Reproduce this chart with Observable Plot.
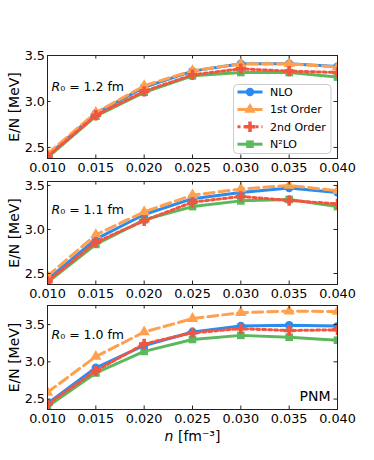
<!DOCTYPE html>
<html><head><meta charset="utf-8">
<script src="https://cdn.jsdelivr.net/npm/d3@7"></script>
<script src="https://cdn.jsdelivr.net/npm/@observablehq/plot@0.6"></script>
<style>body{margin:0;background:#fff;} svg{display:block;} #chart{width:374px;height:460px;}</style>
</head><body><div id="chart"></div>
<script>
// x values: density n [fm^-3]
const densities = [0.010, 0.015, 0.020, 0.025, 0.030, 0.035, 0.040];
const xTicks = [0.010, 0.015, 0.020, 0.025, 0.030, 0.035, 0.040];
const yTicks = [2.5, 3.0, 3.5];
const seriesNames = ["NLO", "1st Order", "2nd Order", "N²LO"];

// R0 = 1.2 fm
const nlo_12    = [2.41, 2.87, 3.155, 3.33, 3.41, 3.41, 3.38];
const first_12  = [2.43, 2.88, 3.17, 3.335, 3.41, 3.41, 3.375];
const second_12 = [2.40, 2.85, 3.11, 3.29, 3.355, 3.33, 3.315];
const n2lo_12   = [2.39, 2.84, 3.10, 3.28, 3.315, 3.315, 3.265];
// R0 = 1.1 fm
const nlo_11    = [2.43, 2.89, 3.17, 3.35, 3.42, 3.47, 3.42];
const first_11  = [2.47, 2.94, 3.20, 3.39, 3.46, 3.50, 3.44];
const second_11 = [2.41, 2.855, 3.10, 3.31, 3.375, 3.33, 3.29];
const n2lo_11   = [2.40, 2.83, 3.11, 3.26, 3.325, 3.34, 3.26];
// R0 = 1.0 fm
const nlo_10    = [2.44, 2.92, 3.22, 3.40, 3.48, 3.49, 3.48];
const first_10  = [2.59, 3.07, 3.40, 3.58, 3.66, 3.68, 3.675];
const second_10 = [2.43, 2.88, 3.24, 3.39, 3.445, 3.42, 3.43];
const n2lo_10   = [2.40, 2.85, 3.14, 3.30, 3.355, 3.33, 3.29];

const panelLabels = ["R₀ = 1.2 fm", "R₀ = 1.1 fm", "R₀ = 1.0 fm"];

const styles = {
  "NLO":       {color: "#2b8cf0", dash: null,  symbol: "circle",   r: 4.2},
  "1st Order": {color: "#ffa04e", dash: "10,5", symbol: "triangle", r: 4.2},
  "2nd Order": {color: "#f2553f", dash: "3,3",  symbol: "cross",    r: 4.4},
  "N²LO":      {color: "#5cb85c", dash: null,  symbol: "square",   r: 4.3}
};
const drawOrder = ["N²LO", "NLO", "1st Order", "2nd Order"];

const W = 374, mL = 47, mR = 37;

function makePanel(cfg) {
  const rows = [];
  seriesNames.forEach((name, k) => cfg.values[k].forEach((E, i) => rows.push({n: densities[i], E, series: name})));
  const H = cfg.height - cfg.marginTop - cfg.marginBottom;
  const PW = W - mL - mR;
  const marks = [];
  for (const name of drawOrder) {
    const s = styles[name];
    const d = rows.filter(r => r.series === name);
    marks.push(Plot.line(d, {x: "n", y: "E", stroke: s.color, strokeWidth: 3, strokeDasharray: s.dash, clip: true}));
    marks.push(Plot.dot(d, {x: "n", y: "E", symbol: s.symbol, fill: s.color, stroke: "none", r: s.r, clip: true}));
  }
  marks.push(Plot.frame({stroke: "#222", strokeWidth: 1}));
  const tk = {stroke: "#222", strokeWidth: 1};
  marks.push(Plot.tickX(xTicks, {x: d => d, insetTop: H - 3.5, ...tk}));
  marks.push(Plot.tickX(xTicks, {x: d => d, insetBottom: H - 3.5, ...tk}));
  marks.push(Plot.tickY(yTicks, {y: d => d, insetRight: PW - 3.5, ...tk}));
  marks.push(Plot.tickY(yTicks, {y: d => d, insetLeft: PW - 3.5, ...tk}));
  marks.push(Plot.axisX({ticks: xTicks, tickFormat: d3.format(".3f"), tickSize: 0, tickPadding: 4,
    label: cfg.xLabel ? "n [fm⁻³]" : null, labelAnchor: "center", labelOffset: 31, labelArrow: "none"}));
  marks.push(Plot.axisY({ticks: yTicks, tickFormat: d3.format(".1f"), tickSize: 0, tickPadding: 2.5,
    label: "E/N [MeV]", labelAnchor: "center", labelOffset: 38, labelArrow: "none"}));
  marks.push(Plot.text([cfg.label], {frameAnchor: "top-left", dx: 4, dy: cfg.labelDy, textAnchor: "start", fontSize: 12.5}));
  if (cfg.pnm) marks.push(Plot.text(["PNM"], {frameAnchor: "bottom-right", dx: -7, dy: -9, textAnchor: "end", fontSize: 14}));
  const svg = Plot.plot({
    width: W, height: cfg.height,
    marginLeft: mL, marginRight: mR, marginTop: cfg.marginTop, marginBottom: cfg.marginBottom,
    x: {domain: [0.010, 0.040]},
    y: {domain: cfg.yDomain},
    style: {fontFamily: "DejaVu Sans", fontSize: "12.8px", color: "#000", background: "transparent", overflow: "visible"},
    marks
  });
  d3.select(svg).selectAll('g[aria-label="y-axis label"], g[aria-label="x-axis label"]').attr("font-size", 14);
  // typographic touches: italic R and italic n
  d3.select(svg).selectAll("text").each(function() {
    const t = this.textContent;
    if (t.startsWith("R₀")) {
      this.textContent = "";
      d3.select(this).append("tspan").attr("font-style", "italic").text("R");
      d3.select(this).append("tspan").text(t.slice(1));
    } else if (t === "n [fm⁻³]") {
      this.textContent = "";
      d3.select(this).append("tspan").attr("font-style", "italic").text("n");
      d3.select(this).append("tspan").text(t.slice(1));
    }
  });
  return svg;
}

function addLegend(svg) {
  const g = d3.select(svg).append("g").attr("font-family", "DejaVu Sans").attr("font-size", 11)
    .attr("text-anchor", "start");
  const x0 = 233.5, y0 = 84.5, w = 97.5, h = 69;
  g.append("rect").attr("x", x0).attr("y", y0).attr("width", w).attr("height", h).attr("rx", 4)
    .attr("fill", "white").attr("fill-opacity", 0.85).attr("stroke", "#cccccc");
  seriesNames.forEach((name, i) => {
    const s = styles[name];
    const yc = y0 + 7.5 + i * 17.4;
    g.append("line").attr("x1", x0 + 4).attr("x2", x0 + 29).attr("y1", yc).attr("y2", yc)
      .attr("stroke", s.color).attr("stroke-width", 3).attr("stroke-dasharray", s.dash);
    const sym = {circle: d3.symbolCircle, triangle: d3.symbolTriangle, cross: d3.symbolCross, square: d3.symbolSquare}[s.symbol];
    g.append("path").attr("transform", `translate(${x0 + 16.5},${yc})`)
      .attr("d", d3.symbol(sym, Math.PI * s.r * s.r)()).attr("fill", s.color);
    g.append("text").attr("x", x0 + 36.5).attr("y", yc).attr("dy", "0.35em").attr("fill", "#000")
      .attr("text-anchor", "start").text(name);
  });
}

const chart = document.getElementById("chart");
const p1 = makePanel({values: [nlo_12, first_12, second_12, n2lo_12], label: panelLabels[0], labelDy: 27,
  yDomain: [2.38, 3.50], height: 173, marginTop: 55, marginBottom: 15});
addLegend(p1);
const p2 = makePanel({values: [nlo_11, first_11, second_11, n2lo_11], label: panelLabels[1], labelDy: 24,
  yDomain: [2.375, 3.545], height: 128, marginTop: 8, marginBottom: 17});
const p3 = makePanel({values: [nlo_10, first_10, second_10, n2lo_10], label: panelLabels[2], labelDy: 25,
  yDomain: [2.36, 3.756], height: 159, marginTop: 4, marginBottom: 51, xLabel: true, pnm: true});
chart.append(p1, p2, p3);
</script>
</body></html>
